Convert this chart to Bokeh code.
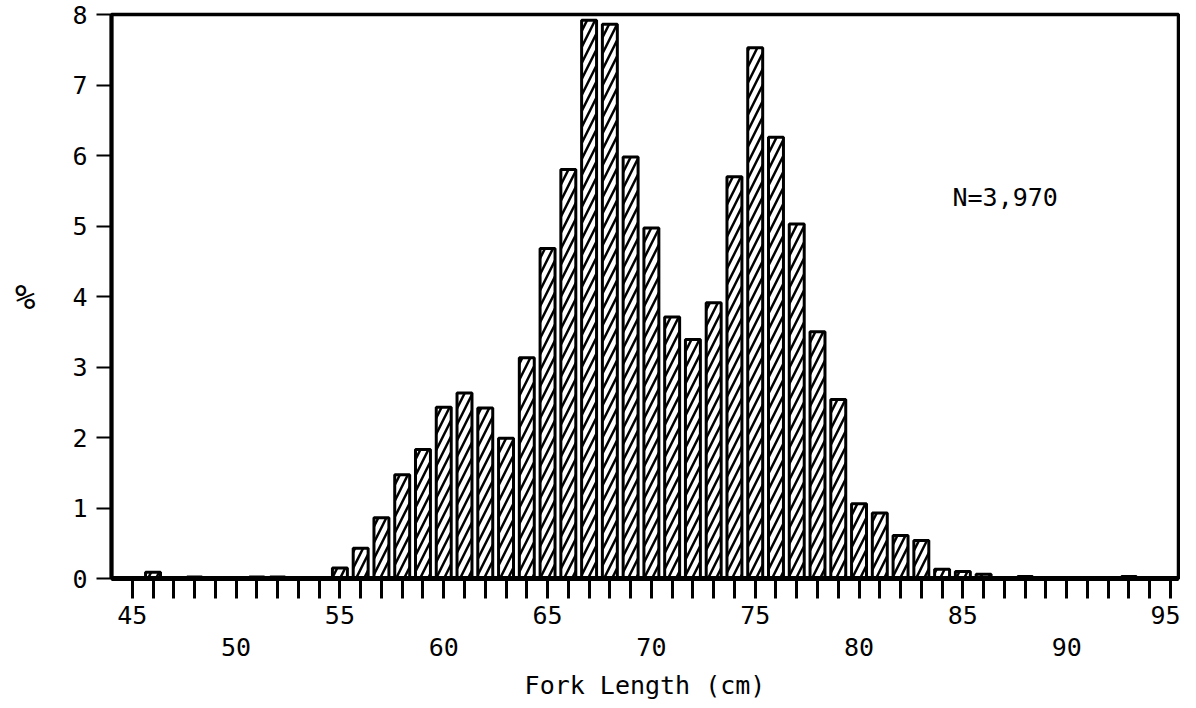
from bokeh.plotting import figure
from bokeh.models import Range1d, FixedTicker, LinearAxis, Label, ColumnDataSource
from bokeh.embed import file_html
from bokeh.resources import INLINE

# Fork length classes (cm) and percentage of fish in each class
lengths = list(range(45, 96))
percent = [
    0.00, 0.09, 0.00, 0.02, 0.00, 0.00, 0.02, 0.02, 0.00, 0.01,   # 45-54
    0.15, 0.43, 0.86, 1.47, 1.83, 2.43, 2.63, 2.42, 1.99, 3.13,   # 55-64
    4.68, 5.80, 7.92, 7.86, 5.98, 4.97, 3.71, 3.39, 3.91, 5.70,   # 65-74
    7.53, 6.26, 5.03, 3.50, 2.54, 1.06, 0.93, 0.61, 0.54, 0.13,   # 75-84
    0.10, 0.06, 0.00, 0.03, 0.00, 0.00, 0.00, 0.00, 0.03, 0.00,   # 85-94
    0.00,                                                          # 95
]
x_ticks_all = list(range(45, 96))
x_labels_upper = [45, 55, 65, 75, 85, 95]
x_labels_lower = [50, 60, 70, 80, 90]
y_ticks = [0, 1, 2, 3, 4, 5, 6, 7, 8]
sample_note = "N=3,970"

FONT = "DejaVu Sans Mono"

src = ColumnDataSource(dict(x=lengths, y=percent))

p = figure(frame_width=1067, frame_height=564,
           x_range=Range1d(44.0, 95.385), y_range=Range1d(0, 8),
           output_backend="svg", toolbar_location=None,
           min_border_left=111, min_border_top=14, min_border_right=2,
           min_border_bottom=0,
           background_fill_color="white", border_fill_color="white")

p.xgrid.visible = False
p.ygrid.visible = False
p.outline_line_color = "black"
p.outline_line_width = 3.5

p.vbar(x="x", top="y", width=0.72, source=src,
       fill_color="white", line_color="black", line_width=3,
       hatch_pattern="/", hatch_scale=16, hatch_weight=2.5, hatch_color="black")

# main x axis: ticks at every cm, labels at 45, 55, ...
xa = p.xaxis[0]
xa.ticker = FixedTicker(ticks=x_ticks_all)
xa.major_label_overrides = {t: (str(t) if t in x_labels_upper else "") for t in x_ticks_all}
xa.axis_line_width = 5
xa.axis_line_color = "black"
xa.major_tick_out = 20
xa.major_tick_in = 0
xa.major_tick_line_width = 3
xa.minor_tick_out = 0
xa.minor_tick_in = 0
xa.major_label_standoff = 7
xa.major_label_text_font = FONT
xa.major_label_text_font_size = "25px"
xa.major_label_text_color = "black"

# second row of x labels: 50, 60, ...
xa2 = LinearAxis(ticker=FixedTicker(ticks=x_labels_lower))
xa2.axis_line_color = None
xa2.major_tick_out = 0
xa2.major_tick_in = 0
xa2.minor_tick_out = 0
xa2.minor_tick_in = 0
xa2.major_label_standoff = 11
xa2.major_label_text_font = FONT
xa2.major_label_text_font_size = "25px"
xa2.major_label_text_color = "black"
xa2.axis_label = "Fork Length (cm)"
xa2.axis_label_text_font = FONT
xa2.axis_label_text_font_size = "25px"
xa2.axis_label_text_font_style = "normal"
xa2.axis_label_text_color = "black"
xa2.axis_label_standoff = 12
p.add_layout(xa2, "below")

ya = p.yaxis[0]
ya.ticker = FixedTicker(ticks=y_ticks)
ya.axis_line_width = 4
ya.axis_line_color = "black"
ya.major_tick_out = 15
ya.major_tick_in = 0
ya.major_tick_line_width = 2
ya.minor_tick_out = 0
ya.minor_tick_in = 0
ya.major_label_standoff = 9
ya.major_label_text_font = FONT
ya.major_label_text_font_size = "25px"
ya.major_label_text_color = "black"
ya.axis_label = "%"
ya.axis_label_orientation = "horizontal"
ya.axis_label_text_font = FONT
ya.axis_label_text_font_size = "34px"
ya.axis_label_text_font_style = "normal"
ya.axis_label_text_color = "black"
ya.axis_label_standoff = 34

p.add_layout(Label(x=84.5, y=5.41, text=sample_note, text_font=FONT,
                   text_font_size="25px", text_color="black",
                   text_align="left", text_baseline="middle"))

open("out.html", "w").write(file_html(p, INLINE))
